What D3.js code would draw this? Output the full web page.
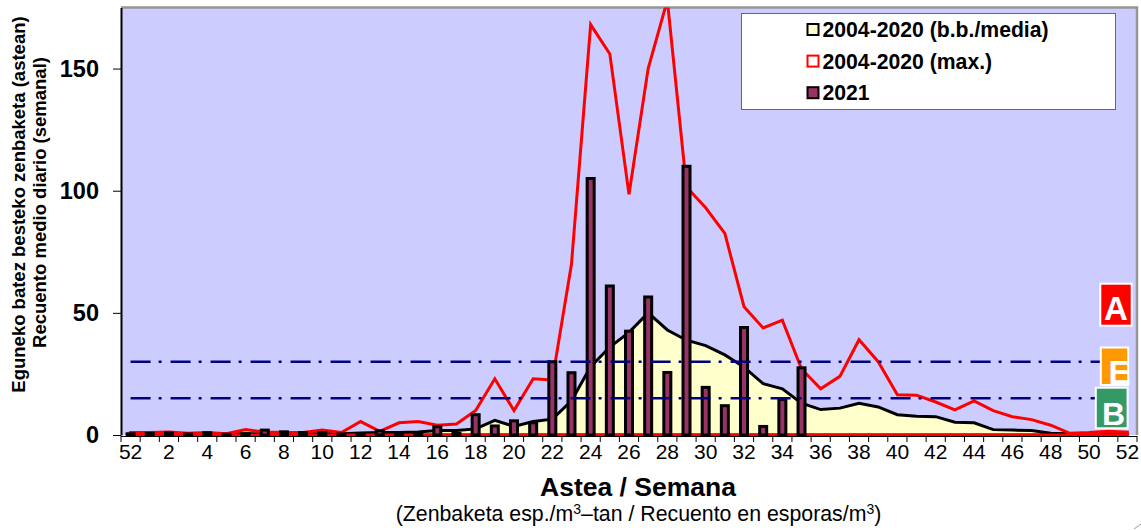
<!DOCTYPE html>
<html>
<head>
<meta charset="utf-8">
<script src="https://d3js.org/d3.v7.min.js"></script>
<style>
html, body { margin: 0; padding: 0; background: #fff; }
svg { display: block; font-family: "Liberation Sans", Arial, sans-serif; }
</style>
</head>
<body>
<div id="chart"></div>
<script>
// week labels, 52 of the year before comes first
var weeks = [52, 1, 2, 3, 4, 5, 6, 7, 8, 9, 10, 11, 12, 13, 14, 15, 16, 17, 18, 19, 20, 21, 22, 23, 24, 25, 26,
    27, 28, 29, 30, 31, 32, 33, 34, 35, 36, 37, 38, 39, 40, 41, 42, 43, 44, 45, 46, 47, 48, 49, 50, 51, 52];

var meanValues = [0.5, 0.5, 0.5, 0.4, 0.5, 0.4, 0.5, 0.5, 0.5, 0.5, 0.5, 0.5, 0.8, 1, 1, 1.2, 1.8, 1.8, 2.5, 6,
    3.5, 5.5, 6.5, 14, 28, 36, 42, 50, 43, 38.8, 36.6, 32.8, 27.8, 21, 18.9, 13, 10.4, 11, 13, 11.5, 8.3, 7.7, 7.5,
    5.2, 5, 2.2, 2, 1.8, 0.7, 0.5, 0.3, 0.3, 0.2];

var maxValues = [1, 1, 1.2, 0.7, 1, 0.5, 2.2, 1.2, 1, 1, 2, 1, 5.5, 1.5, 5, 5.5, 4, 4.5, 10, 23,
    10, 23, 22.5, 70, 168, 156, 98.5, 150, 178, 101.5, 93, 82.5, 52.5, 43.8, 47, 27, 18.9, 24, 39, 30, 16.5, 16.3, 13.5,
    10.3, 14, 10, 7.5, 6.3, 4, 0.7, 1, 1.5, 1.2];

// 2021 stops at week 35
var values2021 = [0.5, 0.7, 0.8, 0.4, 0.9, 0.3, 0.5, 2, 1.3, 1, 1, 0.4, 0.4, 1.7, 1, 0.4, 3.4, 0.7, 8.3, 3.7,
    5.8, 5, 30, 25.5, 105, 61, 42.5, 56.5, 25.6, 110, 19.5, 12, 44, 3.5, 14.5, 27.5];

var yTicks = [0, 50, 100, 150];
var thresholds = [15, 30];
var legendLabels = ["2004-2020 (b.b./media)", "2004-2020 (max.)", "2021"];
var badges = ["A", "E", "B"];

var svgWidth = 1141;
var svgHeight = 530;

var margin = { top: 7.5, right: 4, bottom: 95, left: 121 };
var width = svgWidth - margin.left - margin.right;
var height = svgHeight - margin.top - margin.bottom;

var svg = d3.select("#chart")
    .append("svg")
    .attr("width", svgWidth)
    .attr("height", svgHeight);

var chartGroup = svg.append("g")
    .attr("transform", `translate(${margin.left}, ${margin.top})`);

svg.append("clipPath")
    .attr("id", "plotClip")
    .append("rect")
    .attr("width", width)
    .attr("height", height + 3);

var indexes = d3.range(weeks.length);

var xScale = d3.scaleBand()
    .domain(indexes)
    .range([0, width]);

var yScale = d3.scaleLinear()
    .domain([0, 175])
    .range([height, 0]);

var xCenter = i => xScale(i) + xScale.bandwidth() / 2;

// plot background with the grey top and right border
chartGroup.append("rect")
    .attr("width", width)
    .attr("height", height)
    .attr("fill", "#CCCCFF");

chartGroup.append("path")
    .attr("d", `M0,0H${width}V${height}`)
    .attr("fill", "none")
    .attr("stroke", "#969696")
    .attr("stroke-width", 2.5);

var plotGroup = chartGroup.append("g")
    .attr("clip-path", "url(#plotClip)");

var areaGen = d3.area()
    .x((d, i) => xCenter(i))
    .y0(height)
    .y1(d => yScale(d));

plotGroup.append("path")
    .datum(meanValues)
    .attr("d", areaGen)
    .attr("fill", "#FFFFCC")
    .attr("stroke", "#000")
    .attr("stroke-width", 3);

plotGroup.append("path")
    .datum(maxValues)
    .attr("d", areaGen)
    .attr("fill", "none")
    .attr("stroke", "#FF0000")
    .attr("stroke-width", 3);

var barWidth = 7;

plotGroup.selectAll("rect.bar")
    .data(values2021)
    .enter()
    .append("rect")
    .attr("class", "bar")
    .attr("x", (d, i) => xCenter(i) - barWidth / 2)
    .attr("y", d => yScale(d))
    .attr("width", barWidth)
    .attr("height", d => height - yScale(d))
    .attr("fill", "#993366")
    .attr("stroke", "#000")
    .attr("stroke-width", 3);

// threshold lines
chartGroup.selectAll("line.threshold")
    .data(thresholds)
    .enter()
    .append("line")
    .attr("class", "threshold")
    .attr("x1", xCenter(0))
    .attr("x2", xCenter(weeks.length - 1))
    .attr("y1", d => yScale(d))
    .attr("y2", d => yScale(d))
    .attr("stroke", "#000080")
    .attr("stroke-width", 2.5)
    .attr("stroke-dasharray", "20 8 3 9");

// axes
var leftAxis = d3.axisLeft(yScale)
    .tickValues(yTicks)
    .tickSize(8)
    .tickSizeOuter(0)
    .tickPadding(14);

var yAxisGroup = chartGroup.append("g").call(leftAxis);
yAxisGroup.select(".domain").attr("stroke", "#000").attr("stroke-width", 2);
yAxisGroup.selectAll("text")
    .attr("font-family", "Liberation Sans")
    .attr("font-size", "23.5px")
    .attr("font-weight", "bold")
    .attr("fill", "#000");

var bottomAxis = d3.axisBottom(xScale)
    .tickValues(indexes.filter(i => i % 2 == 0))
    .tickFormat(i => weeks[i])
    .tickSize(0)
    .tickPadding(9);

var xAxisGroup = chartGroup.append("g")
    .attr("transform", `translate(0, ${height})`)
    .call(bottomAxis);
xAxisGroup.select(".domain").remove();
xAxisGroup.selectAll("text")
    .attr("font-family", "Liberation Sans")
    .attr("font-size", "21px")
    .attr("fill", "#000");

chartGroup.append("line")
    .attr("x1", 0)
    .attr("x2", width)
    .attr("y1", height + 1.5)
    .attr("y2", height + 1.5)
    .attr("stroke", "#000")
    .attr("stroke-width", 1);

// x ticks sit between the weeks
chartGroup.selectAll("line.edge")
    .data(indexes.concat([weeks.length]))
    .enter()
    .append("line")
    .attr("class", "edge")
    .attr("x1", i => xScale.step() * i)
    .attr("x2", i => xScale.step() * i)
    .attr("y1", height + 1)
    .attr("y2", height + 7)
    .attr("stroke", "#000")
    .attr("stroke-width", 1);

// legend
var legend = svg.append("g");

legend.append("rect")
    .attr("x", 741.5)
    .attr("y", 13.5)
    .attr("width", 374)
    .attr("height", 96)
    .attr("fill", "#fff")
    .attr("stroke", "#666")
    .attr("stroke-width", 1);

var swatchFill = ["#FFFFCC", "#fff", "#993366"];
var swatchStroke = ["#000", "#FF0000", "#000"];

legendLabels.forEach(function(label, i) {
    var rowY = 29.5 + i * 31.6;
    legend.append("rect")
        .attr("x", 807.5)
        .attr("y", rowY - 5.5)
        .attr("width", 11)
        .attr("height", 11)
        .attr("fill", swatchFill[i])
        .attr("stroke", swatchStroke[i])
        .attr("stroke-width", 2);
    legend.append("text")
        .attr("x", 822.5)
        .attr("y", rowY + 7.5)
        .attr("font-size", "21.2px")
        .attr("font-weight", "bold")
        .text(label);
});

// A / E / B marks on the right
var badgeColors = ["#FF0000", "#FF9900", "#339966"];
var badgeBox = [[1100.3, 283.7, 31.4, 42], [1100.8, 347.5, 27.4, 37.5], [1095.8, 387.7, 31.8, 40.6]];
var badgeLetter = [[1116, 320], [1119.5, 384], [1113.5, 424.5]];
var badgeSize = [33, 33, 32];

badges.forEach(function(letter, i) {
    svg.append("rect")
        .attr("x", badgeBox[i][0])
        .attr("y", badgeBox[i][1])
        .attr("width", badgeBox[i][2])
        .attr("height", badgeBox[i][3])
        .attr("fill", badgeColors[i])
        .attr("stroke", "#fff")
        .attr("stroke-width", 2);
    svg.append("text")
        .attr("x", badgeLetter[i][0])
        .attr("y", badgeLetter[i][1])
        .attr("text-anchor", "middle")
        .attr("font-size", badgeSize[i] + "px")
        .attr("font-weight", "bold")
        .attr("fill", "#fff")
        .text(letter);
});

// axis titles
var yTitle = svg.append("g")
    .attr("font-weight", "bold")
    .attr("font-size", "18.5px")
    .attr("text-anchor", "middle");

yTitle.append("text")
    .attr("transform", "translate(25, 204.5) rotate(-90)")
    .text("Eguneko batez besteko zenbaketa (astean)");

yTitle.append("text")
    .attr("transform", "translate(46, 202.5) rotate(-90)")
    .text("Recuento medio diario (semanal)");

svg.append("text")
    .attr("x", 638)
    .attr("y", 496)
    .attr("text-anchor", "middle")
    .attr("font-size", "26.5px")
    .attr("font-weight", "bold")
    .text("Astea / Semana");

var subTitle = svg.append("text")
    .attr("x", 638.5)
    .attr("y", 521)
    .attr("text-anchor", "middle")
    .attr("font-size", "21.3px");

subTitle.append("tspan").text("(Zenbaketa esp./m");
subTitle.append("tspan").attr("font-size", "14px").attr("dy", -7).text("3");
subTitle.append("tspan").attr("dy", 7).text("–tan / Recuento en esporas/m");
subTitle.append("tspan").attr("font-size", "14px").attr("dy", -7).text("3");
subTitle.append("tspan").attr("dy", 7).text(")");

// little grey stroke in the bottom corner of the original
svg.append("path")
    .attr("d", "M1134,529L1141,524")
    .attr("fill", "none")
    .attr("stroke", "#999")
    .attr("stroke-width", 1);
</script>
</body>
</html>
